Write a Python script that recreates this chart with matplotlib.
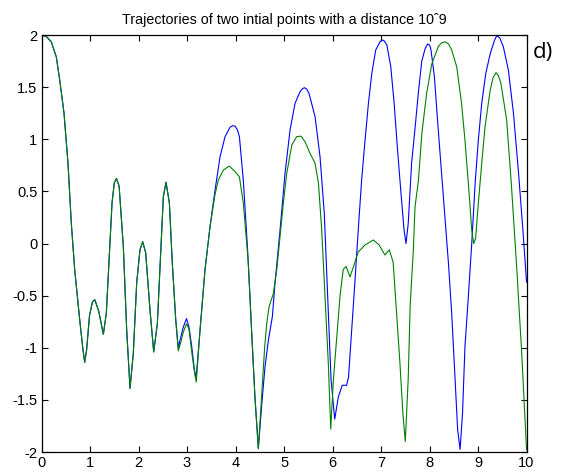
import matplotlib
matplotlib.use("Agg")
import matplotlib.pyplot as plt

plt.rcParams['font.family'] = ['Liberation Sans', 'DejaVu Sans']
plt.rcParams['axes.unicode_minus'] = False

# first trajectory (blue)
x_blue = [0.00, 0.10, 0.20, 0.305, 0.375, 0.464, 0.546, 0.615, 0.684, 0.787,
          0.85, 0.89, 0.93, 0.99, 1.05, 1.10, 1.18, 1.275, 1.336, 1.406,
          1.454, 1.50, 1.545, 1.60, 1.687, 1.756, 1.825, 1.893, 1.962, 2.03,
          2.086, 2.148, 2.237, 2.313, 2.388, 2.464, 2.512, 2.567, 2.636, 2.697,
          2.767, 2.82, 2.87, 2.924, 2.99, 3.04, 3.10, 3.15, 3.186, 3.268,
          3.371, 3.474, 3.577, 3.68, 3.784, 3.887, 3.94, 3.99, 4.04, 4.08,
          4.16, 4.245, 4.33, 4.40, 4.47, 4.54, 4.608, 4.677, 4.76, 4.814,
          4.918, 5.02, 5.124, 5.227, 5.33, 5.38, 5.42, 5.47, 5.515, 5.64,
          5.742, 5.83, 5.90, 5.97, 6.045, 6.12, 6.20, 6.29, 6.33, 6.395,
          6.464, 6.53, 6.60, 6.67, 6.74, 6.81, 6.89, 6.98, 7.02, 7.05,
          7.08, 7.12, 7.20, 7.27, 7.335, 7.406, 7.474, 7.515, 7.56, 7.63,
          7.70, 7.77, 7.84, 7.91, 7.96, 8.00, 8.03, 8.10, 8.18, 8.285,
          8.39, 8.457, 8.526, 8.58, 8.63, 8.68, 8.73, 8.80, 8.87, 8.94,
          9.006, 9.076, 9.16, 9.25, 9.34, 9.37, 9.40, 9.45, 9.52, 9.625,
          9.73, 9.83, 9.92, 10.0]
y_blue = [2.00, 1.985, 1.936, 1.79, 1.57, 1.25, 0.77, 0.19, -0.25, -0.73,
          -1.00, -1.14, -1.02, -0.69, -0.56, -0.54, -0.65, -0.87, -0.67, -0.03,
          0.39, 0.58, 0.625, 0.55, -0.03, -0.83, -1.39, -1.05, -0.38, -0.06,
          0.017, -0.09, -0.64, -1.04, -0.77, -0.03, 0.45, 0.59, 0.39, -0.19,
          -0.73, -1.00, -0.90, -0.80, -0.72, -0.80, -1.00, -1.20, -1.30, -0.83,
          -0.25, 0.16, 0.51, 0.83, 1.025, 1.115, 1.13, 1.127, 1.09, 1.025,
          0.61, -0.03, -0.83, -1.47, -1.965, -1.55, -1.18, -0.93, -0.70, -0.38,
          0.13, 0.67, 1.09, 1.345, 1.456, 1.485, 1.495, 1.48, 1.44, 1.216,
          0.833, 0.29, -0.51, -1.31, -1.685, -1.47, -1.36, -1.36, -1.28, -0.83,
          -0.35, 0.13, 0.61, 0.99, 1.345, 1.633, 1.856, 1.936, 1.95, 1.95,
          1.935, 1.904, 1.70, 1.345, 0.93, 0.513, 0.13, 0.0, 0.19, 0.77,
          1.10, 1.45, 1.75, 1.87, 1.914, 1.905, 1.856, 1.60, 1.089, 0.449,
          -0.19, -0.67, -1.31, -1.79, -1.975, -1.63, -0.99, -0.51, 0.0, 0.578,
          0.993, 1.345, 1.633, 1.82, 1.95, 1.98, 1.99, 1.97, 1.89, 1.665,
          1.25, 0.705, 0.16, -0.37]

# second trajectory (green), starting 10^-9 away
x_green = [0.00, 0.10, 0.20, 0.305, 0.375, 0.464, 0.546, 0.615, 0.684, 0.787,
           0.85, 0.89, 0.93, 0.99, 1.05, 1.10, 1.18, 1.275, 1.336, 1.406,
           1.454, 1.50, 1.545, 1.60, 1.687, 1.756, 1.825, 1.893, 1.962, 2.03,
           2.086, 2.148, 2.237, 2.313, 2.388, 2.464, 2.512, 2.567, 2.636, 2.697,
           2.767, 2.82, 2.87, 2.924, 2.99, 3.04, 3.10, 3.15, 3.19, 3.268,
           3.371, 3.474, 3.577, 3.646, 3.75, 3.87, 3.99, 4.08, 4.16, 4.265,
           4.33, 4.40, 4.47, 4.54, 4.60, 4.643, 4.69, 4.78, 4.85, 4.918,
           4.986, 5.056, 5.16, 5.26, 5.35, 5.433, 5.536, 5.64, 5.71, 5.777,
           5.845, 5.913, 5.963, 6.017, 6.087, 6.155, 6.22, 6.28, 6.36, 6.44,
           6.53, 6.67, 6.84, 6.96, 7.08, 7.17, 7.25, 7.32, 7.39, 7.45,
           7.50, 7.56, 7.60, 7.667, 7.70, 7.77, 7.84, 7.94, 8.045, 8.18,
           8.25, 8.32, 8.39, 8.457, 8.56, 8.66, 8.73, 8.80, 8.87, 8.91,
           8.95, 9.006, 9.076, 9.144, 9.25, 9.31, 9.37, 9.42, 9.47, 9.59,
           9.69, 9.80, 9.90, 9.97, 10.0]
y_green = [2.00, 1.985, 1.936, 1.79, 1.57, 1.25, 0.77, 0.19, -0.25, -0.73,
           -1.00, -1.14, -1.02, -0.69, -0.56, -0.54, -0.65, -0.87, -0.67, -0.03,
           0.39, 0.58, 0.625, 0.55, -0.03, -0.83, -1.39, -1.05, -0.38, -0.06,
           0.017, -0.09, -0.64, -1.04, -0.77, -0.03, 0.45, 0.583, 0.39, -0.19,
           -0.73, -1.03, -0.95, -0.85, -0.77, -0.82, -1.05, -1.22, -1.33, -0.83,
           -0.25, 0.16, 0.47, 0.61, 0.705, 0.743, 0.69, 0.64, 0.39, -0.19,
           -0.83, -1.47, -1.97, -1.45, -1.00, -0.77, -0.61, -0.48, -0.25, 0.065,
           0.386, 0.673, 0.945, 1.025, 1.03, 0.977, 0.865, 0.77, 0.578, 0.13,
           -0.51, -1.15, -1.78, -1.31, -0.90, -0.50, -0.25, -0.22, -0.32, -0.21,
           -0.08, -0.014, 0.034, -0.014, -0.11, -0.06, -0.18, -0.67, -1.15, -1.63,
           -1.90, -1.30, -0.60, -0.05, 0.35, 0.60, 1.05, 1.44, 1.72, 1.89,
           1.925, 1.935, 1.915, 1.856, 1.696, 1.345, 0.993, 0.578, 0.13, 0.0,
           0.05, 0.386, 0.77, 1.12, 1.47, 1.59, 1.64, 1.61, 1.54, 1.185,
           0.545, -0.254, -1.05, -1.69, -1.98]

x_ticks = list(range(0, 11))
y_ticks = [-2, -1.5, -1, -0.5, 0, 0.5, 1, 1.5, 2]
y_labels = ["-2", "-1.5", "-1", "-0.5", "0", "0.5", "1", "1.5", "2"]

fig = plt.figure(figsize=(5.64, 4.76), dpi=100)
ax = fig.add_axes([0.0736, 0.0504, 0.86, 0.876])

ax.plot(x_blue, y_blue, color=(0, 0, 1), lw=0.8)
ax.plot(x_green, y_green, color=(0, 0.5, 0), lw=0.8)

ax.set_xlim(0, 10)
ax.set_ylim(-2, 2)
ax.set_xticks(x_ticks)
ax.set_yticks(y_ticks)
ax.set_yticklabels(y_labels)
ax.tick_params(direction='in', top=True, right=True, length=4, width=0.8,
               labelsize=10.5, pad=3)
for s in ax.spines.values():
    s.set_linewidth(0.9)

ax.set_title("Trajectories of two intial points with a distance 10\u02c69",
             fontsize=10.3, pad=8)
fig.text(0.945, 0.89, "d)", fontsize=16, family=['Open Sans', 'DejaVu Sans'],
         va='center', ha='left')

fig.savefig("out.png", dpi=100)
